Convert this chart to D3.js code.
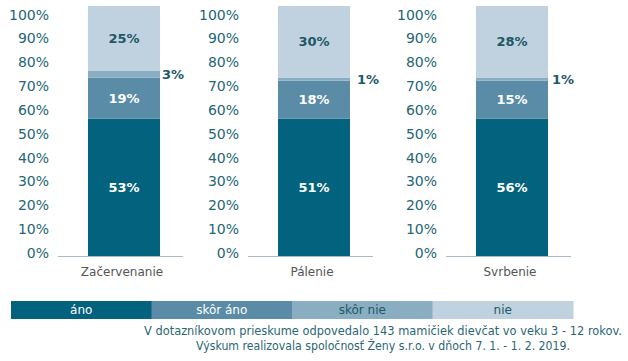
<!DOCTYPE html>
<html><head><meta charset="utf-8">
<script src="https://cdn.jsdelivr.net/npm/d3@7"></script>
<style>body{margin:0;background:#fff}svg{display:block}text{font-family:"DejaVu Sans",sans-serif}</style>
</head><body><svg id="c" width="628" height="361"></svg>
<script>
const categories = ["Začervenanie", "Pálenie", "Svrbenie"];
const seriesNames = ["áno", "skôr áno", "skôr nie", "nie"];
// segment heights as drawn in the picture (percent of bar)
const ano     = [55, 55, 55];
const skorAno = [16.4, 15.1, 15.1];
const skorNie = [2.8, 1.3, 1.3];
const nie     = [25.8, 28.6, 28.6];
// labels printed on the segments
const anoLabels     = ["53%", "51%", "56%"];
const skorAnoLabels = ["19%", "18%", "15%"];
const skorNieLabels = ["3%", "1%", "1%"];
const nieLabels     = ["25%", "30%", "28%"];
const tickValues = [0, 10, 20, 30, 40, 50, 60, 70, 80, 90, 100];
const footer = ["V dotazníkovom prieskume odpovedalo 143 mamičiek dievčat vo veku 3 - 12 rokov.",
                "Výskum realizovala spoločnosť Ženy s.r.o. v dňoch 7. 1. - 1. 2. 2019."];

const colors = ["#03637e", "#5a8ca7", "#8aaec1", "#c0d2df"];
const labelColors = ["#ffffff", "#ffffff", "#1c5866", "#1c5866"];
const axisColor = "#246674";

const svg = d3.select("#c");
const series = [ano, skorAno, skorNie, nie];
const labels = [anoLabels, skorAnoLabels, skorNieLabels, nieLabels];

const y = d3.scaleLinear().domain([0, 100]).range([256, 6]);
const yTicks = d3.scaleLinear().domain([0, 100]).range([252.3, 14]);
const panelStarts = [58, 248, 446];
const panelW = 125, barOff = 30, barW = 72;
const outsideGap = [2, 7, 4];

categories.forEach((cat, i) => {
  const x0 = panelStarts[i];
  const g = svg.append("g");
  const ax = g.append("g").attr("transform", `translate(${x0 - 9},0)`)
    .call(d3.axisLeft(yTicks).tickValues(tickValues).tickFormat(d => d + "%").tickSize(0).tickPadding(0));
  ax.select(".domain").remove();
  ax.selectAll("text").attr("fill", axisColor).style("font-size", "14px")
    .style("font-family", '"DejaVu Sans",sans-serif').attr("dy", "0.36em");

  const xb = d3.scaleBand().domain([cat]).range([x0 + barOff, x0 + barOff + barW]).padding(0);
  let acc = 0;
  series.forEach((s, k) => {
    const v0 = acc, v1 = acc + s[i];
    acc = v1;
    g.append("rect").attr("x", xb(cat)).attr("width", xb.bandwidth())
      .attr("y", y(v1)).attr("height", y(v0) - y(v1)).attr("fill", colors[k]);
    const outside = k === 2;
    g.append("text")
      .attr("x", outside ? xb(cat) + barW + outsideGap[i] : xb(cat) + barW / 2)
      .attr("y", y((v0 + v1) / 2)).attr("dy", "0.36em")
      .attr("text-anchor", outside ? "start" : "middle")
      .attr("fill", outside ? "#1c5866" : labelColors[k])
      .style("font-size", "13px").style("font-weight", "bold")
      .text(labels[k][i]);
  });

  g.append("line").attr("x1", x0).attr("x2", x0 + panelW)
    .attr("y1", y(0) + 0.5).attr("y2", y(0) + 0.5).attr("stroke", "#a8bcc7").attr("stroke-width", 1);
  g.append("text").attr("x", xb(cat) + barW / 2 - 2).attr("y", 276)
    .attr("text-anchor", "middle").attr("fill", "#555").style("font-size", "12px").text(cat);
});

const lx = d3.scaleBand().domain(seriesNames).range([11, 573]);
const leg = svg.append("g");
seriesNames.forEach((n, k) => {
  leg.append("rect").attr("x", lx(n)).attr("y", 301).attr("width", lx.bandwidth() + 0.5).attr("height", 18).attr("fill", colors[k]);
  leg.append("text").attr("x", lx(n) + lx.bandwidth() / 2).attr("y", 310).attr("dy", "0.36em")
    .attr("text-anchor", "middle").attr("fill", labelColors[k]).style("font-size", "12px").text(n);
});

const fl = [478, 374];
footer.forEach((t, i) => {
  svg.append("text").attr("x", 383).attr("y", 335 + i * 15).attr("text-anchor", "middle")
    .attr("fill", "#2a6673").style("font-size", "11.5px")
    .attr("textLength", fl[i]).attr("lengthAdjust", "spacingAndGlyphs").text(t);
});
</script></body></html>
